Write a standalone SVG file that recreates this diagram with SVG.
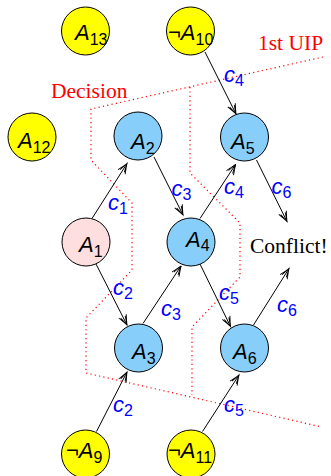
<svg xmlns="http://www.w3.org/2000/svg" width="331" height="476" viewBox="0 0 331 476">
<defs>
<style>
.n{stroke:#000;stroke-width:1}
.y{fill:#ffff00}
.b{fill:#87cefa}
.p{fill:#ffdedf}
.lbl{font-family:"Liberation Sans",Arial,sans-serif;font-size:22px;fill:#000}
.sub{font-size:16px;font-style:normal}
.it{font-style:italic}
.cl{font-family:"Liberation Sans",Arial,sans-serif;font-size:22px;fill:#0000ff}
.serif{font-family:"Liberation Serif","Times New Roman",serif;font-size:21.5px}
.red{fill:#ff0000}
.e{stroke:#000;stroke-width:1;fill:none;marker-end:url(#ah)}
.cut{stroke:#ff0000;stroke-width:1.2;fill:none;stroke-dasharray:1.2 3.2}
</style>
<marker id="ah" markerUnits="userSpaceOnUse" markerWidth="14" markerHeight="12" refX="0" refY="0" viewBox="-12 -6 14 12" orient="auto" overflow="visible">
<path d="M-10,-4.2 Q-4,-1.5 0,0 Q-4,1.5 -10,4.2 M-9,-2.5 L0,0 L-9,2.5" fill="none" stroke="#000" stroke-width="0.9"/>
</marker>
</defs>

<g id="cuts">
<path class="cut" d="M323,57 L91,109 L91,160 L132,203 L132,270 L86,318 L86,373 L322,427"/>
<path class="cut" d="M190,87 L190,173 L240,223 L240,277 L192,327 L192,395"/>
</g>

<g id="connectors">
<line class="e" x1="205" y1="52" x2="236" y2="114"/>
<line class="e" x1="92" y1="218.5" x2="127" y2="163.5"/>
<line class="e" x1="154" y1="157" x2="183" y2="215"/>
<line class="e" x1="200" y1="218.5" x2="235.5" y2="164.5"/>
<line class="e" x1="256.5" y1="160" x2="287" y2="221.5"/>
<line class="e" x1="95.5" y1="263" x2="127" y2="325"/>
<line class="e" x1="143" y1="323.5" x2="181" y2="266"/>
<line class="e" x1="200" y1="264" x2="230.5" y2="326.5"/>
<line class="e" x1="253.5" y1="325" x2="289" y2="268.5"/>
<line class="e" x1="96.5" y1="431.5" x2="127" y2="372"/>
<line class="e" x1="202.5" y1="431.5" x2="239" y2="375"/>
</g>

<g id="edge-labels">
<text class="cl" x="224" y="82"><tspan class="it">c</tspan><tspan class="sub" dy="4">4</tspan></text>
<text class="cl" x="108" y="210"><tspan class="it">c</tspan><tspan class="sub" dy="4">1</tspan></text>
<text class="cl" x="171.5" y="196"><tspan class="it">c</tspan><tspan class="sub" dy="4">3</tspan></text>
<text class="cl" x="224" y="193.5"><tspan class="it">c</tspan><tspan class="sub" dy="4">4</tspan></text>
<text class="cl" x="271.5" y="193.5"><tspan class="it">c</tspan><tspan class="sub" dy="4">6</tspan></text>
<text class="cl" x="113" y="295"><tspan class="it">c</tspan><tspan class="sub" dy="4">2</tspan></text>
<text class="cl" x="161" y="315.5"><tspan class="it">c</tspan><tspan class="sub" dy="4">3</tspan></text>
<text class="cl" x="219" y="300"><tspan class="it">c</tspan><tspan class="sub" dy="4">5</tspan></text>
<text class="cl" x="277" y="311.5"><tspan class="it">c</tspan><tspan class="sub" dy="4">6</tspan></text>
<text class="cl" x="113" y="411.5"><tspan class="it">c</tspan><tspan class="sub" dy="4">2</tspan></text>
<text class="cl" x="224" y="411.5"><tspan class="it">c</tspan><tspan class="sub" dy="4">5</tspan></text>
</g>

<g id="A13"><circle class="n y" cx="85.5" cy="31" r="24"/><text class="lbl" x="75" y="40"><tspan class="it">A</tspan><tspan class="sub" dy="5">13</tspan></text></g>
<g id="nA10"><circle class="n y" cx="190.5" cy="31" r="24"/><text class="lbl" x="168" y="40">¬<tspan class="it">A</tspan><tspan class="sub" dy="5">10</tspan></text></g>
<g id="A12"><circle class="n y" cx="32" cy="137" r="24"/><text class="lbl" x="18" y="148"><tspan class="it">A</tspan><tspan class="sub" dy="5">12</tspan></text></g>
<g id="A2"><circle class="n b" cx="138" cy="136" r="24"/><text class="lbl" x="131" y="148.5"><tspan class="it">A</tspan><tspan class="sub" dy="5">2</tspan></text></g>
<g id="A5"><circle class="n b" cx="244.5" cy="137" r="24"/><text class="lbl" x="231" y="148.5"><tspan class="it">A</tspan><tspan class="sub" dy="5">5</tspan></text></g>
<g id="A1"><circle class="n p" cx="86" cy="242" r="24"/><text class="lbl" x="79" y="252"><tspan class="it">A</tspan><tspan class="sub" dy="5">1</tspan></text></g>
<g id="A4"><circle class="n b" cx="191" cy="242" r="24"/><text class="lbl" x="186" y="246.5"><tspan class="it">A</tspan><tspan class="sub" dy="4">4</tspan></text></g>
<g id="A3"><circle class="n b" cx="138.5" cy="348" r="24"/><text class="lbl" x="132" y="359"><tspan class="it">A</tspan><tspan class="sub" dy="5">3</tspan></text></g>
<g id="A6"><circle class="n b" cx="244.5" cy="348" r="24"/><text class="lbl" x="233" y="359"><tspan class="it">A</tspan><tspan class="sub" dy="5">6</tspan></text></g>
<g id="nA9"><circle class="n y" cx="85.5" cy="454" r="24"/><text class="lbl" x="66" y="458">¬<tspan class="it">A</tspan><tspan class="sub" dy="5">9</tspan></text></g>
<g id="nA11"><circle class="n y" cx="191" cy="454" r="24"/><text class="lbl" x="168" y="458">¬<tspan class="it">A</tspan><tspan class="sub" dy="5">11</tspan></text></g>

<g id="texts">
<text class="serif red" x="51" y="98">Decision</text>
<text class="serif red" x="258" y="50">1st UIP</text>
<text class="serif" x="250" y="253" fill="#000">Conflict!</text>
</g>
</svg>
